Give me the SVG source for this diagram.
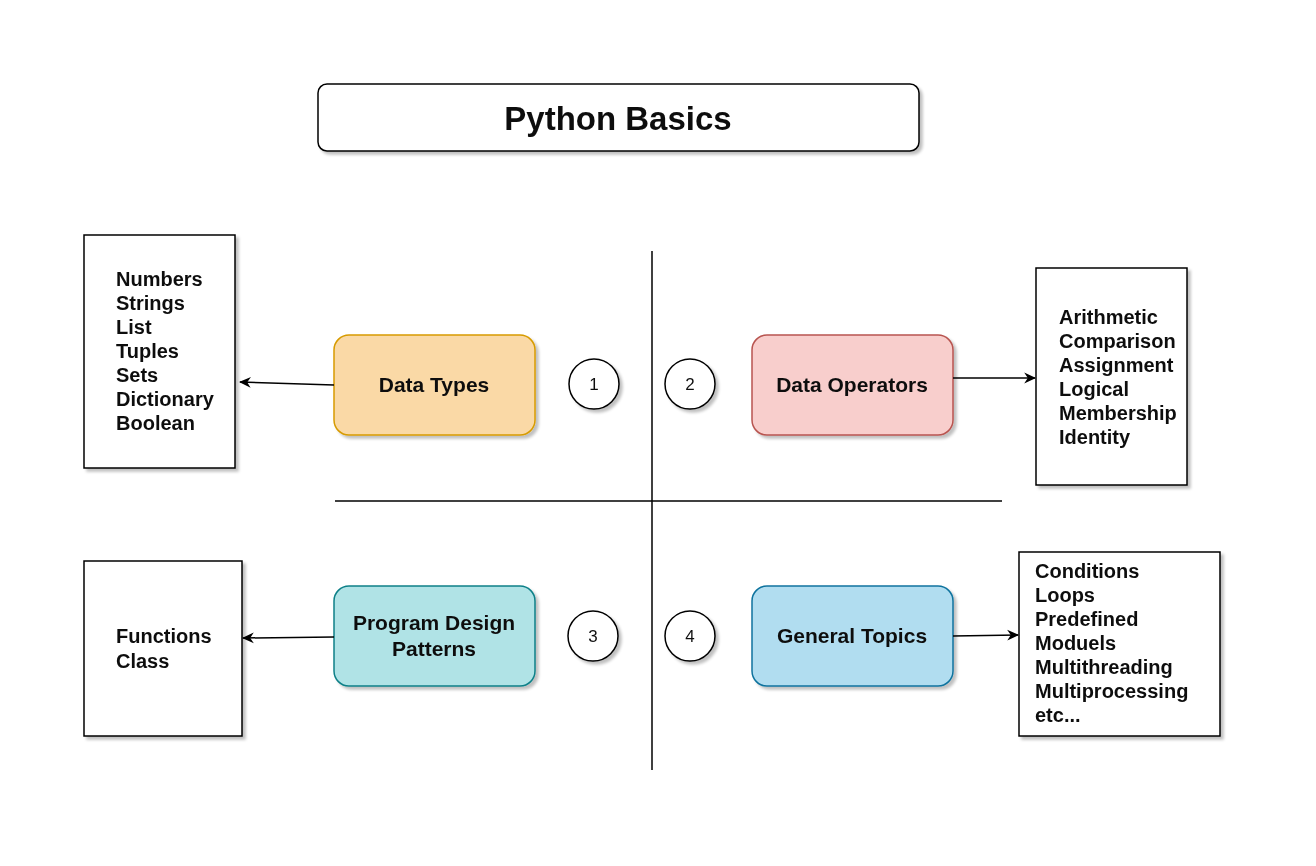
<svg xmlns="http://www.w3.org/2000/svg" width="1316" height="866" viewBox="0 0 1316 866">
<defs>
<filter id="sh" x="-10%" y="-10%" width="130%" height="130%">
<feGaussianBlur in="SourceAlpha" stdDeviation="1.5"/>
<feOffset dx="3" dy="3" result="b"/>
<feComponentTransfer><feFuncA type="linear" slope="0.25"/></feComponentTransfer>
<feMerge><feMergeNode/><feMergeNode in="SourceGraphic"/></feMerge>
</filter>
<marker id="ah" viewBox="0 0 10 10" refX="9" refY="5" markerWidth="12" markerHeight="12" markerUnits="userSpaceOnUse" orient="auto">
<path d="M0,0.5 L10,5 L0,9.5 L3,5 Z" fill="#000"/>
</marker>
</defs>
<style>
text{font-family:"Liberation Sans",Arial,sans-serif;fill:#111}
.list{font-size:20px;font-weight:bold}
.lbl{font-size:21px;font-weight:bold;text-anchor:middle}
.num{font-size:17px;text-anchor:middle}
.box{fill:#fff;stroke:#000;stroke-width:1.5}
.circ{fill:#fff;stroke:#000;stroke-width:1.5}
.conn{stroke:#000;stroke-width:1.5;fill:none}
</style>
<rect width="1316" height="866" fill="#fff"/>

<g id="title" filter="url(#sh)">
<rect x="318" y="84" width="601" height="67" rx="9" class="box"/>
<text x="618" y="130" style="font-size:33px;font-weight:bold;text-anchor:middle">Python Basics</text>
</g>

<g id="dividers">
<line x1="652" y1="251" x2="652" y2="770" class="conn"/>
<line x1="335" y1="501" x2="1002" y2="501" class="conn"/>
</g>

<g id="datatypes-list" filter="url(#sh)">
<rect x="84" y="235" width="151" height="233" class="box"/>
<text class="list"><tspan x="116" y="286">Numbers</tspan><tspan x="116" y="310">Strings</tspan><tspan x="116" y="334">List</tspan><tspan x="116" y="358">Tuples</tspan><tspan x="116" y="382">Sets</tspan><tspan x="116" y="406">Dictionary</tspan><tspan x="116" y="430">Boolean</tspan></text>
</g>

<g id="datatypes" filter="url(#sh)">
<rect x="334" y="335" width="201" height="100" rx="15" fill="#fad9a6" stroke="#d79b00" stroke-width="1.5"/>
<text x="434" y="392" class="lbl">Data Types</text>
</g>

<g id="c1" filter="url(#sh)"><circle cx="594" cy="384" r="25" class="circ"/><text x="594" y="390" class="num">1</text></g>
<g id="c2" filter="url(#sh)"><circle cx="690" cy="384" r="25" class="circ"/><text x="690" y="390" class="num">2</text></g>
<g id="c3" filter="url(#sh)"><circle cx="593" cy="636" r="25" class="circ"/><text x="593" y="642" class="num">3</text></g>
<g id="c4" filter="url(#sh)"><circle cx="690" cy="636" r="25" class="circ"/><text x="690" y="642" class="num">4</text></g>

<g id="dataoperators" filter="url(#sh)">
<rect x="752" y="335" width="201" height="100" rx="15" fill="#f8cecc" stroke="#b85450" stroke-width="1.5"/>
<text x="852" y="392" class="lbl">Data Operators</text>
</g>

<g id="operators-list" filter="url(#sh)">
<rect x="1036" y="268" width="151" height="217" class="box"/>
<text class="list"><tspan x="1059" y="324">Arithmetic</tspan><tspan x="1059" y="348">Comparison</tspan><tspan x="1059" y="372">Assignment</tspan><tspan x="1059" y="396">Logical</tspan><tspan x="1059" y="420">Membership</tspan><tspan x="1059" y="444">Identity</tspan></text>
</g>

<g id="design-list" filter="url(#sh)">
<rect x="84" y="561" width="158" height="175" class="box"/>
<text class="list"><tspan x="116" y="643">Functions</tspan><tspan x="116" y="668">Class</tspan></text>
</g>

<g id="design" filter="url(#sh)">
<rect x="334" y="586" width="201" height="100" rx="15" fill="#b0e3e6" stroke="#0e8088" stroke-width="1.5"/>
<text class="lbl"><tspan x="434" y="630">Program Design</tspan><tspan x="434" y="656">Patterns</tspan></text>
</g>

<g id="general" filter="url(#sh)">
<rect x="752" y="586" width="201" height="100" rx="15" fill="#b1ddf0" stroke="#10739e" stroke-width="1.5"/>
<text x="852" y="643" class="lbl">General Topics</text>
</g>

<g id="general-list" filter="url(#sh)">
<rect x="1019" y="552" width="201" height="184" class="box"/>
<text class="list"><tspan x="1035" y="578">Conditions</tspan><tspan x="1035" y="602">Loops</tspan><tspan x="1035" y="626">Predefined</tspan><tspan x="1035" y="650">Moduels</tspan><tspan x="1035" y="674">Multithreading</tspan><tspan x="1035" y="698">Multiprocessing</tspan><tspan x="1035" y="722">etc...</tspan></text>
</g>

<g id="connectors">
<line x1="334" y1="385" x2="240" y2="382" class="conn" marker-end="url(#ah)"/>
<line x1="953" y1="378" x2="1035" y2="378" class="conn" marker-end="url(#ah)"/>
<line x1="334" y1="637" x2="243" y2="638" class="conn" marker-end="url(#ah)"/>
<line x1="953" y1="636" x2="1018" y2="635" class="conn" marker-end="url(#ah)"/>
</g>
</svg>
